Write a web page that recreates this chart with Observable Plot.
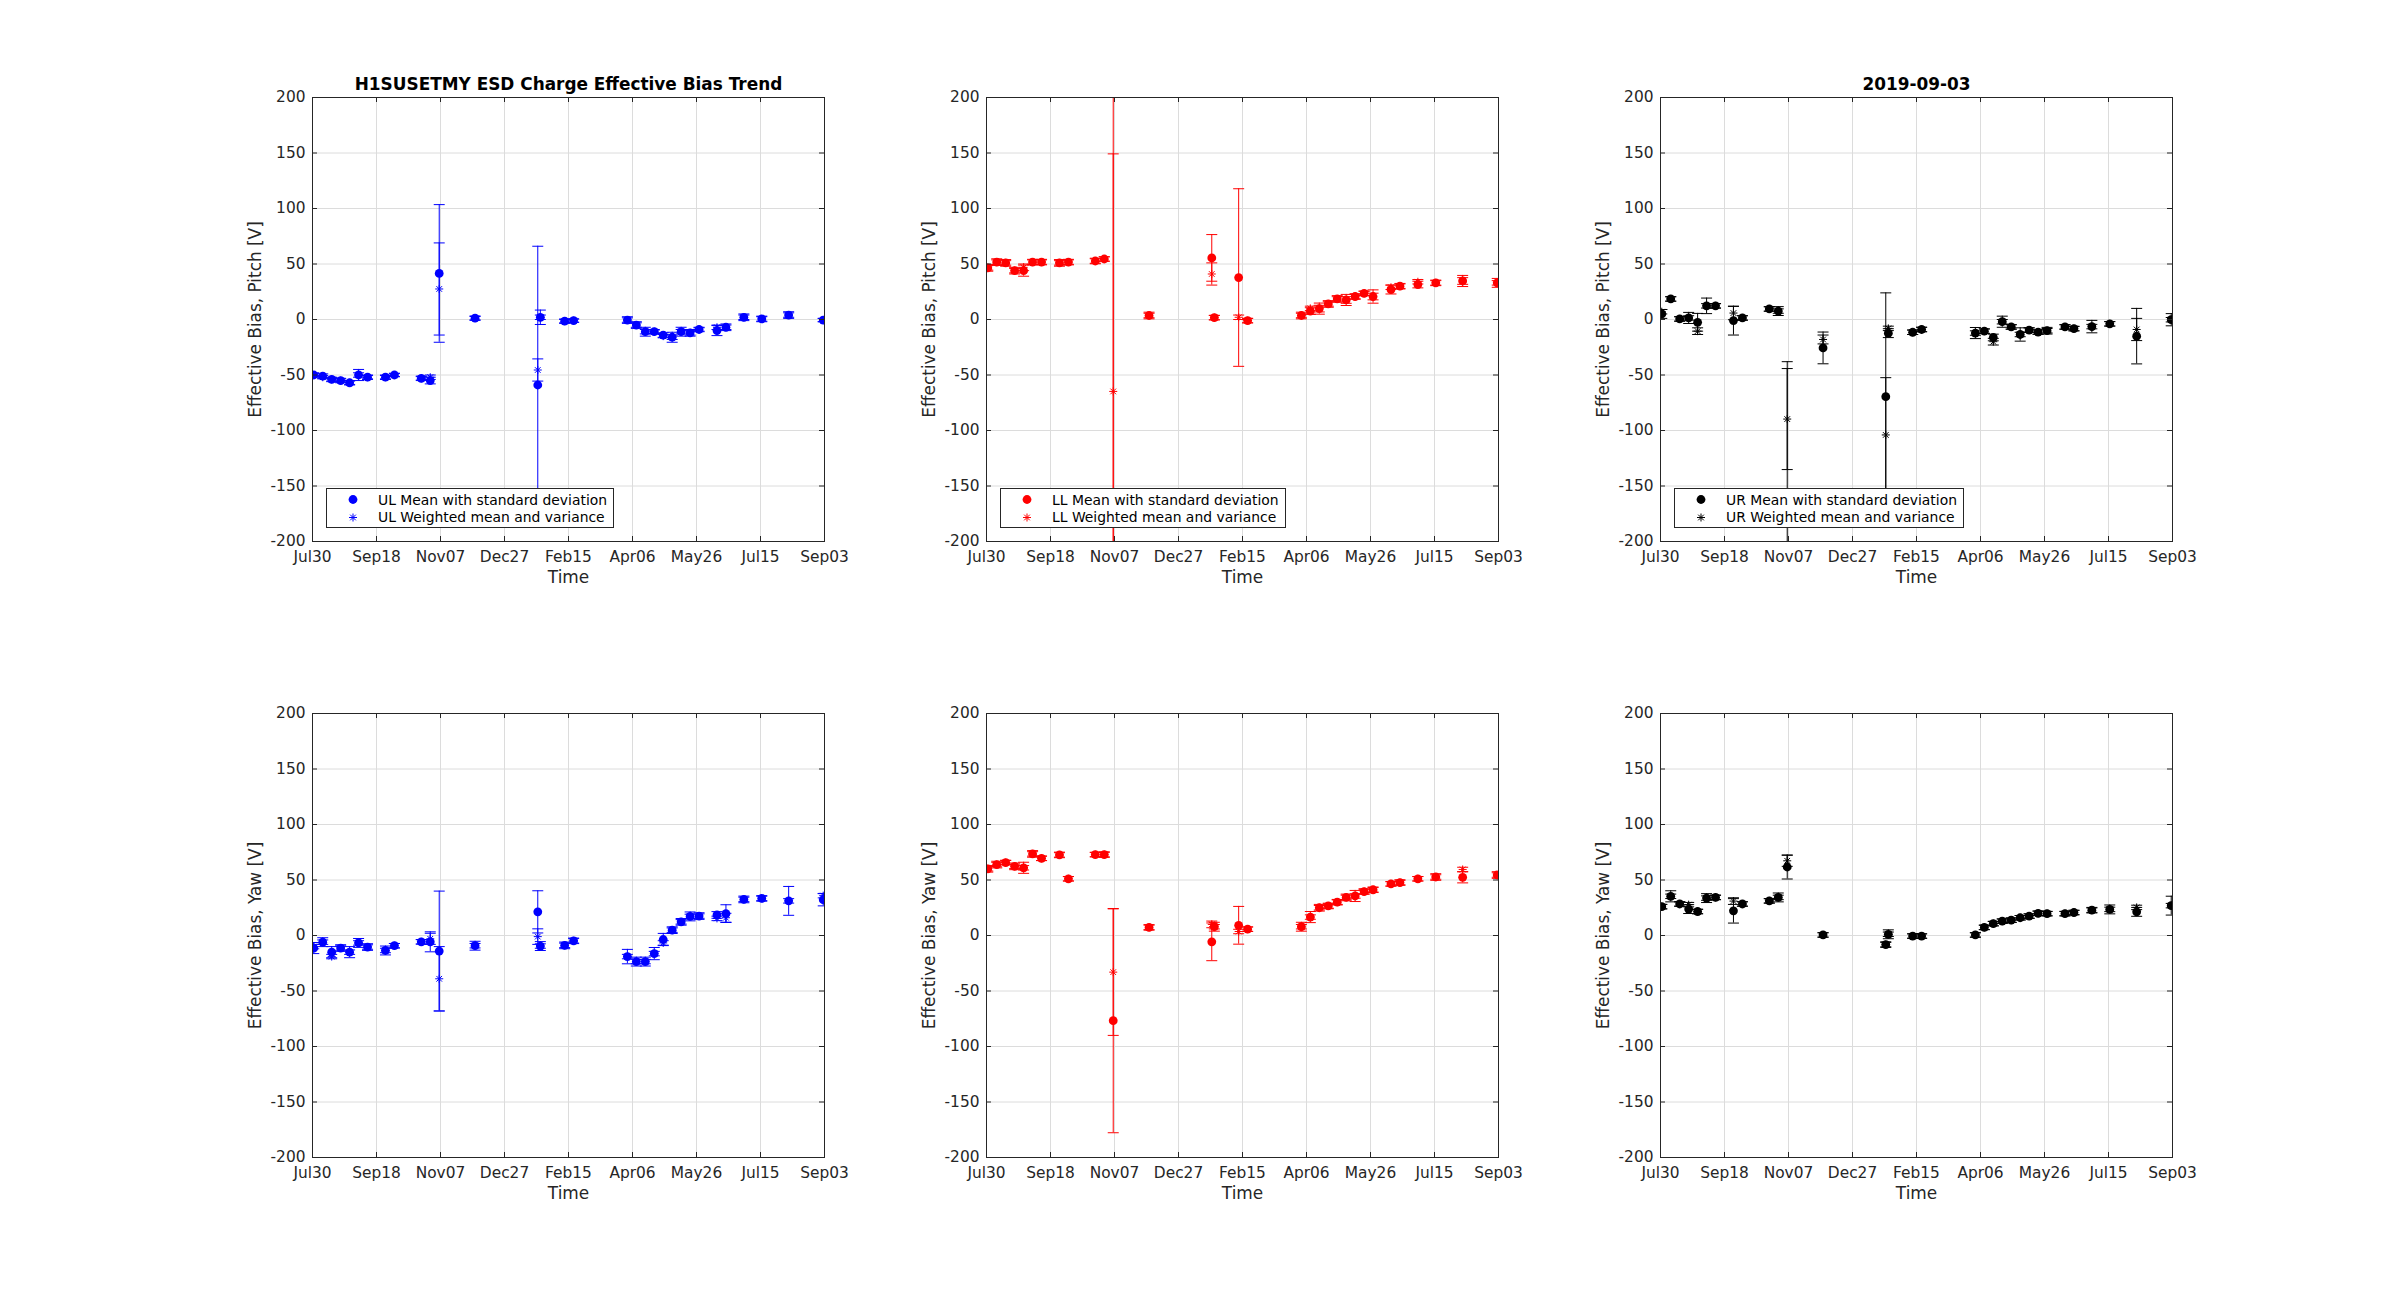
<!DOCTYPE html>
<html>
<head>
<meta charset="utf-8">
<script src="https://cdn.jsdelivr.net/npm/d3@7"></script>
<script src="https://cdn.jsdelivr.net/npm/@observablehq/plot@0.6"></script>
<style>
html, body { margin: 0; padding: 0; background: #fff; }
#fig { position: relative; width: 2400px; height: 1300px; background: #fff; overflow: hidden; font-family: "DejaVu Sans", sans-serif; }
.panel { position: absolute; }
.panel svg { overflow: visible; }
g[aria-label="x-axis label"], g[aria-label="y-axis label"] { font-size: 16.9px; }
.legend { position: absolute; box-sizing: border-box; border: 1px solid #262626; background: #fff; color: #000;
  font-size: 13.9px; padding: 2px 6px 1px 0; white-space: nowrap; }
.legend .row { display: flex; align-items: center; height: 17.5px; }
.legend svg { flex: none; }
</style>
</head>
<body>
<div id="fig"></div>
<script>
// ---- measurement dates (shared by all six panels) ----
const dates = ["2018-07-31","2018-08-07","2018-08-14","2018-08-21","2018-08-28","2018-09-04","2018-09-11",
  "2018-09-25","2018-10-02","2018-10-23","2018-10-30","2018-11-06","2018-12-04","2019-01-22","2019-01-24",
  "2019-02-12","2019-02-19","2019-04-02","2019-04-09","2019-04-16","2019-04-23","2019-04-30","2019-05-07",
  "2019-05-14","2019-05-21","2019-05-28","2019-06-11","2019-06-18","2019-07-02","2019-07-16","2019-08-06","2019-09-02"];

// ---- axis ticks ----
const xDomain = ["2018-07-30", "2019-09-03"];
const xTicks = ["2018-07-30","2018-09-18","2018-11-07","2018-12-27","2019-02-15","2019-04-06","2019-05-26","2019-07-15","2019-09-03"];
const yTicks = [-200, -150, -100, -50, 0, 50, 100, 150, 200];

// ---- UL pitch ----
const ulPitchMean  = [-50,-51,-54,-55,-57,-50,-52,-52,-50,-53,-55,41.5,1.2,-59,2,-1.5,-1,-0.5,-5,-11,-11,-14,-16,-11,-12,-9,-10,-7,2,0.5,4,-0.5];
const ulPitchStd   = [2,2,2,2,2,5,2,2,1.5,2,3,62,2,125,6.5,2,1.5,3,3,4,2,2,4.5,4,3,2,4.5,3,3,2.5,3,1.5];
const ulPitchWMean = [-50,-52,-54,-55,-57,-50,-52,-52,-50,-53,-52,27.5,1.2,-45.5,2,-1.5,-1,-0.5,-5,-11,-11,-15,-16,-11,-12,-9,-7,-7,2,0.5,4,-0.5];
const ulPitchWVar  = [1.5,1.5,1.5,1.5,1.5,2,1.5,1.5,1.5,1.5,2,41.5,1.5,10,2,1.5,1.5,2,2,2,1.5,1.5,2,2,2,1.5,2,2,2,2,2,1.5];

// ---- LL pitch ----
const llPitchMean  = [46.5,51.7,51,44,44,51.7,51.7,51,51.7,52.7,54.5,300,3.6,55.5,1.7,37.8,-1,3.6,7.6,9.8,14,18.5,17.6,20.7,23.5,20.7,27,30,31.5,33,34.7,33];
const llPitchStd   = [3,3,3,3,5,2.5,2.5,3,2.5,2.5,2,600,3,21,2,80,2,3,3,5,3,3,5,2.5,2,6,4,2.5,3,2.5,5,4];
const llPitchWMean = [46.5,51.7,51,44,47,51.7,51.7,51,51.7,52.7,54.5,-64.8,3.6,41,1.7,2,-1,3.6,10,9.8,14,18.5,17.6,20.7,23.5,20.7,29,30,34,33,34.7,33];
const llPitchWVar  = [2,2,2,2,3,2,2,2,2,2,2,214,2,10,2,2,2,2,2,3,2,2,3,2,2,3,2,2,2,2,3,2];

// ---- UR pitch ----
const urPitchMean  = [5,18.5,0.5,1.4,-2.5,12.3,12.3,-1,1.4,9.5,7.6,-250,-25.6,-69.5,-12.3,-11.5,-9,-12.2,-10.5,-16.2,-2,-6.7,-13.5,-9.5,-11.3,-10.1,-6.7,-8.2,-6.4,-3.9,-15,-0.2];
const urPitchStd   = [4,2,2,5,8,7,2,13,2,2,4,212,14.3,93.5,4,2,2,5,2,3,5,2,6,2,2,3,2,2,5.6,2,25,5.5];
const urPitchWMean = [7,18.5,0.5,1.4,-10.5,12.3,12.3,5.8,1.4,9.5,7.6,-89.7,-18,-104,-8,-11.5,-9,-12.2,-10.5,-20,-2,-6.7,-13.5,-9.5,-11.3,-10.1,-6.7,-8.2,-6.4,-3.9,-9,-0.2];
const urPitchWVar  = [2,2,2,2,3,2,2,6,2,2,2,45.5,4,51.6,2,2,2,2,2,3,2,2,2,2,2,2,2,2,2,2,10,2];

// ---- UL yaw ----
const ulYawMean  = [-11.3,-6,-15,-11.3,-15,-6.7,-10.4,-13.5,-9.2,-5.7,-5.7,-14,-9.2,21.3,-9.5,-8.9,-4.8,-19,-23.5,-23.5,-16.3,-3.6,4.8,12.3,17.2,17.5,18.5,19.7,32.5,33.4,31.2,32.2];
const ulYawStd   = [5,4,5,3,5,4,3,4,2,2,9,54,4,19,4,3,2.5,6.5,4,4,5.5,5.5,3,3,4,3,3,8,3,2.5,13,5.5];
const ulYawWMean = [-10,-6,-19,-11.3,-15,-6.7,-10.4,-13.5,-9.2,-5.7,-3,-39,-9.2,-1,-9.5,-8.9,-4.8,-19,-23.5,-23.5,-16.3,-6.7,4.8,12.3,17.2,17.5,15.4,16,32.5,33.4,31.2,35.9];
const ulYawWVar  = [2,2,2,2,2,2,2,2,2,2,5,29,2,7,2,2,2,2,2,2,2,2,2,2,2,2,2,4,2,2,2,2];

// ---- LL yaw ----
const llYawMean  = [60.1,63.9,65.7,62.3,61,73.5,69.5,72.6,51.1,72.9,72.9,-76.7,7.3,-5.7,7.9,9.2,5.7,7.9,16.6,25,26.6,30,34.3,35.6,39.6,41.2,46.5,47.7,51.1,52.7,52.4,54.5];
const llYawStd   = [3,3,2,3,5,3,2,2.5,2,2,2.5,101,2.5,17,4,17,2,4,5,3,2.5,2.5,3,5,2.5,2.5,2,2.5,2,3,5,3];
const llYawWMean = [60.1,63.9,65.7,62.3,61,73.5,69.5,72.6,51.1,72.9,72.9,-33,7.3,10,7.9,3.6,5.7,7.9,16.6,25,26.6,30,34.3,35.6,39.6,41.2,46.5,47.7,51.1,52.7,59.5,54.5];
const llYawWVar  = [2,2,2,2,2,2,2,2,2,2,2,57,2,3,2,2,2,2,2,2,2,2,2,2,2,2,2,2,2,2,2,2];

// ---- UR yaw ----
const urYawMean  = [26,35.3,28.4,23.8,21.6,33.7,34.3,22.2,28.4,31.2,34.3,61.7,0.5,-8.2,1.1,-0.5,-0.5,0.5,7.3,10.7,12.9,13.8,16,17.5,20,19.7,19.7,20.7,22.8,23.5,21.3,26.9];
const urYawStd   = [2,5,2,4,2,4,2,11,2,2,4,10.8,2,2.5,4,2,2,2,2,2,2,2,2,2,2,2,2,2,2.5,4,4,8.5];
const urYawWMean = [26,35.3,28.4,27.8,21.6,33.7,34.3,31,28.4,31.2,34.3,67.3,0.5,-8.2,1.1,-0.5,-0.5,0.5,7.3,10.7,12.9,13.8,16,17.5,20,19.7,19.7,20.7,22.8,23.5,25.3,26.9];
const urYawWVar  = [2,2,2,2,2,2,2,3,2,2,2,5,2,2,2,2,2,2,2,2,2,2,2,2,2,2,2,2,2,2,2,2];

const mainTitle = "H1SUSETMY ESD Charge Effective Bias Trend";
const dateTitle = "2019-09-03";

// ---- layout (Matlab subplot 2x3) ----
const colX = [312, 986, 1660];
const rowY = [97, 713];
const FW = 512, FH = 444;
const ML = 110, MR = 30, MT = 60, MB = 80;
const AX = "#262626";

// custom symbols
const capSymbol = { draw(ctx, size) { const r = Math.sqrt(size / Math.PI); ctx.moveTo(-r, 0); ctx.lineTo(r, 0); } };
const starSymbol = { draw(ctx, size) {
  const r = Math.sqrt(size / Math.PI), d = r * Math.SQRT1_2;
  ctx.moveTo(0, -r); ctx.lineTo(0, r);
  ctx.moveTo(-r, 0); ctx.lineTo(r, 0);
  ctx.moveTo(-d, -d); ctx.lineTo(d, d);
  ctx.moveTo(-d, d); ctx.lineTo(d, -d);
} };

const fig = document.getElementById("fig");
const xTickDates = xTicks.map(d => new Date(d));

function panel({mean, std, wmean, wvar, color, ylabel, title, prefix, col, row}) {
  const rows = dates.map((d, i) => ({date: new Date(d), mean: mean[i], std: std[i], wmean: wmean[i], wvar: wvar[i]}));
  const caps = rows.flatMap(r => [
    {date: r.date, y: r.mean - r.std}, {date: r.date, y: r.mean + r.std},
    {date: r.date, y: r.wmean - r.wvar}, {date: r.date, y: r.wmean + r.wvar}
  ]);
  const marks = [
    Plot.gridX({ticks: xTickDates, stroke: "#dcdcdc", strokeOpacity: 1}),
    Plot.gridY({ticks: yTicks, stroke: "#dcdcdc", strokeOpacity: 1}),
    Plot.ruleX(rows, {x: "date", y1: d => d.mean - d.std, y2: d => d.mean + d.std, stroke: color, strokeWidth: 1, clip: true}),
    Plot.ruleX(rows, {x: "date", y1: d => d.wmean - d.wvar, y2: d => d.wmean + d.wvar, stroke: color, strokeWidth: 1, clip: true}),
    Plot.dot(caps, {x: "date", y: "y", symbol: capSymbol, r: 5.5, stroke: color, fill: "none", strokeWidth: 1, clip: true}),
    Plot.dot(rows, {x: "date", y: "mean", r: 4.4, fill: color, stroke: "none", clip: true}),
    Plot.dot(rows, {x: "date", y: "wmean", symbol: starSymbol, r: 4, stroke: color, fill: "none", strokeWidth: 1, clip: true}),
    Plot.frame({stroke: AX, strokeWidth: 1}),
    Plot.tickX(xTickDates, {x: d => d, insetTop: FH - 5, stroke: AX}),
    Plot.tickX(xTickDates, {x: d => d, insetBottom: FH - 5, stroke: AX}),
    Plot.tickY(yTicks, {y: d => d, insetRight: FW - 5, stroke: AX}),
    Plot.tickY(yTicks, {y: d => d, insetLeft: FW - 5, stroke: AX}),
    Plot.axisX({ticks: xTickDates, tickFormat: d3.utcFormat("%b%d"), tickSize: 0, tickPadding: 10, fontSize: 15.4,
      label: "Time", labelAnchor: "center", labelOffset: 41, labelArrow: "none"}),
    Plot.axisY({ticks: yTicks, tickFormat: d => String(d), tickSize: 0, tickPadding: 7, fontSize: 15.4,
      label: ylabel, labelAnchor: "center", labelOffset: 64, labelArrow: "none"})
  ];
  if (title) marks.push(Plot.text([title], {frameAnchor: "top", dy: -20, fontWeight: "bold", fontSize: 16.9, fill: "#000"}));
  const svg = Plot.plot({
    width: FW + ML + MR, height: FH + MT + MB,
    marginLeft: ML, marginRight: MR, marginTop: MT, marginBottom: MB,
    x: {type: "utc", domain: xDomain.map(d => new Date(d))},
    y: {type: "linear", domain: [-200, 200]},
    style: {fontFamily: "DejaVu Sans", color: AX, background: "transparent", overflow: "visible"},
    marks
  });
  const div = document.createElement("div");
  div.className = "panel";
  div.style.left = (colX[col] - ML) + "px";
  div.style.top = (rowY[row] - MT) + "px";
  div.appendChild(svg);
  fig.appendChild(div);

  if (prefix) {
    const lg = document.createElement("div");
    lg.className = "legend";
    lg.style.left = (colX[col] + 14) + "px";
    lg.style.top = (rowY[row] + FH - 14 - 39) + "px";
    const circlePath = (() => { const p = d3.path(); p.arc(0, 0, 4.4, 0, 2 * Math.PI); return p.toString(); })();
    const starPath = (() => { const p = d3.path(); starSymbol.draw(p, 4 * 4 * Math.PI); return p.toString(); })();
    const items = [
      {label: prefix + " Mean with standard deviation", d: circlePath, fill: color, stroke: "none"},
      {label: prefix + " Weighted mean and variance", d: starPath, fill: "none", stroke: color}
    ];
    for (const it of items) {
      const r = document.createElement("div");
      r.className = "row";
      r.innerHTML = `<svg width="51" height="17"><path transform="translate(26,8.5)" d="${it.d}" fill="${it.fill}" stroke="${it.stroke}" stroke-width="1"></path></svg><span>${it.label}</span>`;
      lg.appendChild(r);
    }
    fig.appendChild(lg);
  }
}

panel({mean: ulPitchMean, std: ulPitchStd, wmean: ulPitchWMean, wvar: ulPitchWVar, color: "#0000ff",
  ylabel: "Effective Bias, Pitch [V]", title: mainTitle, prefix: "UL", col: 0, row: 0});
panel({mean: llPitchMean, std: llPitchStd, wmean: llPitchWMean, wvar: llPitchWVar, color: "#ff0000",
  ylabel: "Effective Bias, Pitch [V]", title: null, prefix: "LL", col: 1, row: 0});
panel({mean: urPitchMean, std: urPitchStd, wmean: urPitchWMean, wvar: urPitchWVar, color: "#000000",
  ylabel: "Effective Bias, Pitch [V]", title: dateTitle, prefix: "UR", col: 2, row: 0});
panel({mean: ulYawMean, std: ulYawStd, wmean: ulYawWMean, wvar: ulYawWVar, color: "#0000ff",
  ylabel: "Effective Bias, Yaw [V]", title: null, prefix: null, col: 0, row: 1});
panel({mean: llYawMean, std: llYawStd, wmean: llYawWMean, wvar: llYawWVar, color: "#ff0000",
  ylabel: "Effective Bias, Yaw [V]", title: null, prefix: null, col: 1, row: 1});
panel({mean: urYawMean, std: urYawStd, wmean: urYawWMean, wvar: urYawWVar, color: "#000000",
  ylabel: "Effective Bias, Yaw [V]", title: null, prefix: null, col: 2, row: 1});
</script>
</body>
</html>
